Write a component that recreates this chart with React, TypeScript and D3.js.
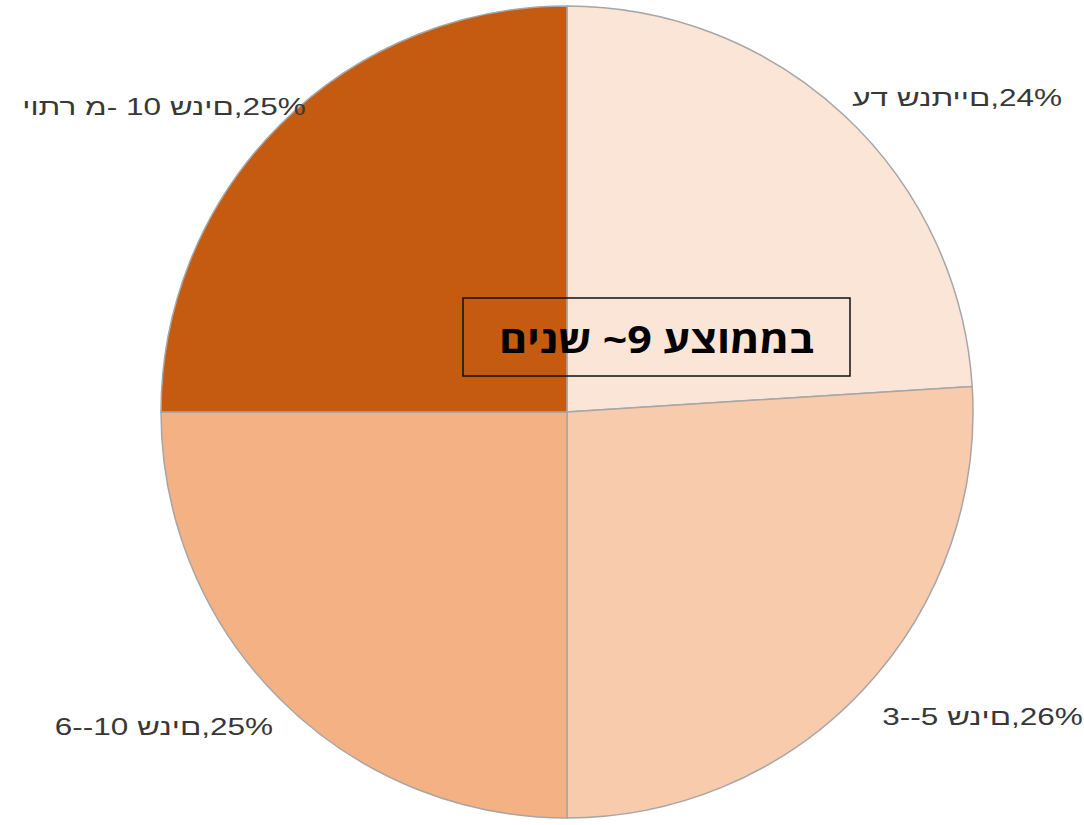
import { useEffect, useRef } from "react";
import * as d3 from "d3";

// categories (in drawing order, clockwise from 12 o'clock)
const categories = ["עד שנתיים", "3--5 שנים", "6--10 שנים", "יותר מ- 10 שנים"];
const shares = [24, 26, 25, 25];
const colors = ["#FBE5D6", "#F8CBAD", "#F4B183", "#C55A11"];
const centerNote = "בממוצע 9~ שנים";

function App() {
  const ref = useRef<SVGSVGElement>(null);

  useEffect(() => {
    const width = 1084;
    const height = 825;
    const cx = 567;
    const cy = 412;
    const radius = 406;

    const svg = d3.select(ref.current).attr("width", width).attr("height", height);
    svg.selectAll("*").remove();

    const pie = d3
      .pie<number>()
      .sort(null)
      .value((d) => d);
    const arcs = pie(shares);
    const arc = d3.arc<d3.PieArcDatum<number>>().innerRadius(0).outerRadius(radius);

    const g = svg.append("g").attr("transform", `translate(${cx},${cy})`);

    g.selectAll("path.slice")
      .data(arcs)
      .enter()
      .append("path")
      .attr("class", "slice")
      .attr("d", arc)
      .attr("fill", (_d, i) => colors[i])
      .attr("stroke", "#a6a6a6")
      .attr("stroke-width", 1.5);

    // labels: on an ellipse around the pie at each slice's mid angle
    // (the source text is stretched wide, hence the x scale)
    const labelA = 570;
    const labelB = 438;
    const labelShiftY = 5;
    const mid = (d: d3.PieArcDatum<number>) => (d.startAngle + d.endAngle) / 2;
    g.selectAll("text.label")
      .data(arcs)
      .enter()
      .append("text")
      .attr("class", "label")
      .attr(
        "transform",
        (d) =>
          `translate(${labelA * Math.sin(mid(d))},${
            -labelB * Math.cos(mid(d)) + labelShiftY
          }) scale(1.37,1)`
      )
      .attr("dy", "0.35em")
      .attr("text-anchor", "middle")
      .attr("fill", "#383838")
      .attr("font-family", "'Liberation Sans', Arial, sans-serif")
      .attr("font-size", "23px")
      .style("direction", "ltr")
      .style("unicode-bidi", "bidi-override")
      .text((d, i) => `${categories[i]},${d.data}%`);

    // note box in the middle
    const boxX = 463 - cx;
    const boxY = 298 - cy;
    const boxW = 387;
    const boxH = 78;
    g.append("rect")
      .attr("x", boxX)
      .attr("y", boxY)
      .attr("width", boxW)
      .attr("height", boxH)
      .attr("fill", "none")
      .attr("stroke", "#111")
      .attr("stroke-width", 1.5);

    g.append("text")
      .attr("x", boxX + boxW / 2)
      .attr("y", boxY + boxH / 2 + 3)
      .attr("dy", "0.35em")
      .attr("text-anchor", "middle")
      .attr("direction", "rtl")
      .attr("font-family", "'Open Sans', 'Noto Sans', sans-serif")
      .attr("font-weight", "bold")
      .attr("font-size", "37px")
      .attr("textLength", 315)
      .attr("lengthAdjust", "spacingAndGlyphs")
      .attr("fill", "#000")
      .text(centerNote);

    return () => {
      svg.selectAll("*").remove();
    };
  }, []);

  return (
    <svg
      ref={ref}
      style={{ position: "absolute", left: 0, top: 0, background: "#fff" }}
    ></svg>
  );
}

export default App;
